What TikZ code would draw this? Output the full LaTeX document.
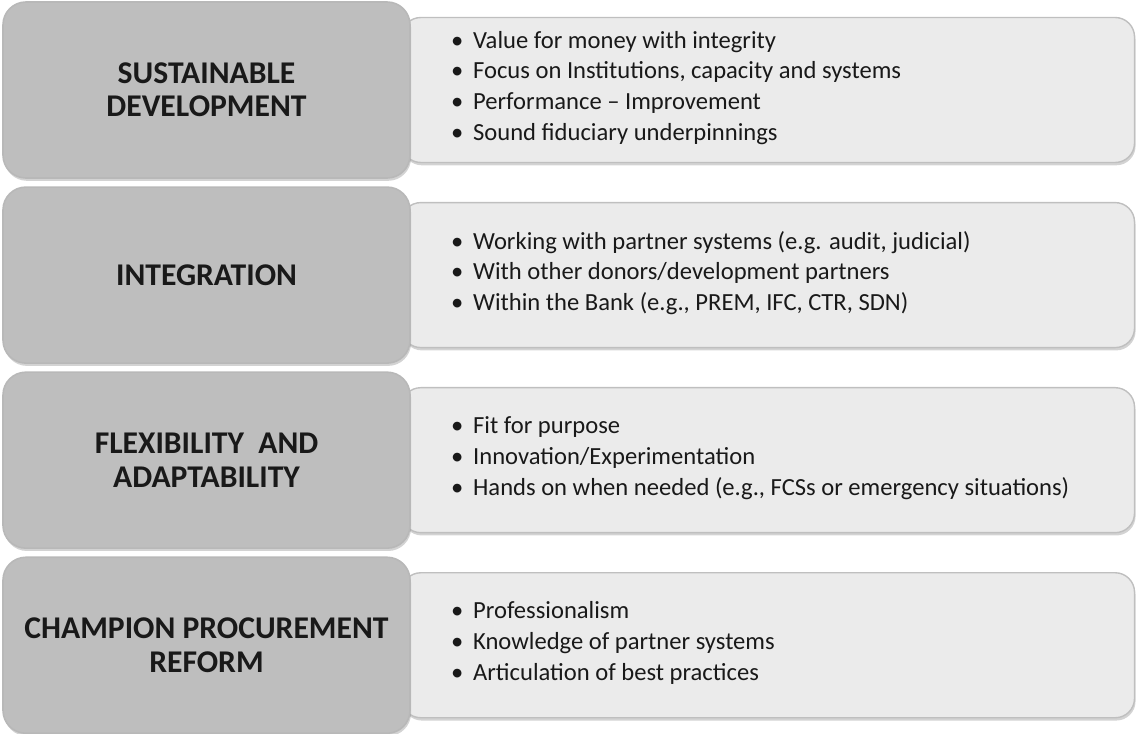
\documentclass[tikz,border=0pt]{standalone}
\usepackage{fontspec}
\setmainfont{Carlito}
\usetikzlibrary{positioning}
\usetikzlibrary{shadows}
\usetikzlibrary{backgrounds}
\definecolor{headgray}{RGB}{190,190,190}
\definecolor{listgray}{RGB}{235,235,235}
\tikzset{%
  headbox/.style={rounded corners=13pt, fill=headgray, draw=white!72!black, line width=0.9pt,
    minimum width=8.14cm, minimum height=3.52cm, align=center, text=black!90,
    font=\bfseries\fontsize{18}{19}\selectfont,
    drop shadow={shadow xshift=0.6pt, shadow yshift=-1.6pt, opacity=0.35}},
  listbox/.style={rounded corners=11pt, fill=listgray, draw=white!75!black, line width=0.8pt,
    minimum width=14.66cm, minimum height=2.9cm,
    drop shadow={shadow xshift=0.6pt, shadow yshift=-1.6pt, opacity=0.35}},
  listtext/.style={align=left, anchor=west, inner sep=0pt, text=black!90,
    font=\fontsize{14}{17.6}\selectfont}
}
\newcommand{\itm}{\makebox[0.44cm][l]{\textbullet}}

\begin{document}
\begin{tikzpicture}
  \useasboundingbox (0,0) rectangle (22.76,-14.66);
  % headings on the left
  \node[headbox] (head1) at (4.13,-1.8) {SUSTAINABLE\\DEVELOPMENT};
  \node[headbox, below=0.15cm of head1] (head2) {INTEGRATION};
  \node[headbox, below=0.15cm of head2] (head3) {FLEXIBILITY\ \ AND\\ADAPTABILITY};
  \node[headbox, below=0.15cm of head3] (head4) {CHAMPION PROCUREMENT\\REFORM};
  % item panels, tucked behind the headings
  \begin{pgfonlayer}{background}
    \node[listbox, anchor=west] (list1) at ([xshift=-0.2cm]head1.east) {};
    \node[listbox, anchor=west] (list2) at ([xshift=-0.2cm]head2.east) {};
    \node[listbox, anchor=west] (list3) at ([xshift=-0.2cm]head3.east) {};
    \node[listbox, anchor=west] (list4) at ([xshift=-0.2cm]head4.east) {};
  \end{pgfonlayer}
  \node[listtext] (items1) at ([xshift=1.0cm, yshift=0.04cm]list1.west)
    {\itm Value for money with integrity\\
     \itm Focus on Institutions, capacity and systems\\
     \itm Performance -- Improvement\\
     \itm Sound fiduciary underpinnings};
  \node[listtext] (items2) at ([xshift=1.0cm, yshift=0.04cm]list2.west)
    {\itm Working with partner systems (e.g. audit, judicial)\\
     \itm With other donors/development partners\\
     \itm Within the Bank (e.g., PREM, IFC, CTR, SDN)};
  \node[listtext] (items3) at ([xshift=1.0cm, yshift=0.04cm]list3.west)
    {\itm Fit for purpose\\
     \itm Innovation/Experimentation\\
     \itm Hands on when needed (e.g., FCSs or emergency situations)};
  \node[listtext] (items4) at ([xshift=1.0cm, yshift=0.04cm]list4.west)
    {\itm Professionalism\\
     \itm Knowledge of partner systems\\
     \itm Articulation of best practices};
\end{tikzpicture}
\end{document}
